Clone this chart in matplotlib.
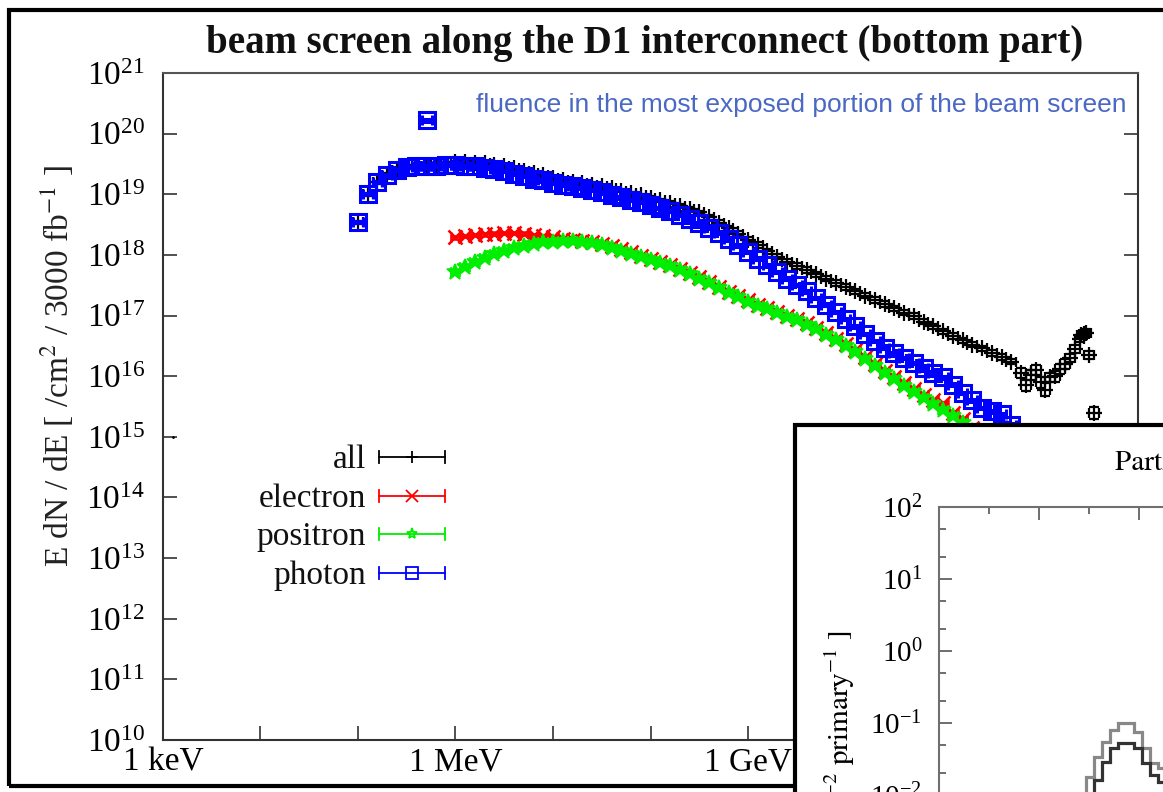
import numpy as np
import matplotlib
matplotlib.use("Agg")
import matplotlib.pyplot as plt
from matplotlib.patches import Rectangle
from matplotlib.lines import Line2D
from matplotlib.ticker import LogLocator, MultipleLocator, NullFormatter, LogFormatterSciNotation

plt.rcParams['font.family'] = ['Liberation Serif', 'DejaVu Serif']
plt.rcParams['mathtext.fontset'] = 'stix'

# ===== data (log10 of energy in eV, log10 of E dN/dE) =====
photon_logE = [5.0, 5.1, 5.2, 5.3, 5.4, 5.5, 5.6, 5.7, 5.8, 5.9,
               6.0, 6.1, 6.2, 6.3, 6.4, 6.5, 6.6, 6.7, 6.8, 6.9,
               7.0, 7.1, 7.2, 7.3, 7.4, 7.5, 7.6, 7.7, 7.8, 7.9,
               8.0, 8.1, 8.2, 8.3, 8.4, 8.5, 8.6, 8.7, 8.8, 8.9,
               9.0, 9.1, 9.2, 9.3, 9.4, 9.5, 9.6, 9.7, 9.8, 9.9,
               10.0, 10.1, 10.2, 10.3, 10.4, 10.5, 10.6, 10.7, 10.8, 10.9,
               11.0, 11.1, 11.2, 11.3, 11.4, 11.5, 11.6, 11.7, 11.8, 11.9,
               5.71]
photon_logY = [18.54, 19.0, 19.2, 19.32, 19.4, 19.45, 19.47, 19.46, 19.47, 19.48,
               19.48, 19.47, 19.46, 19.44, 19.41, 19.38, 19.34, 19.3, 19.26, 19.23,
               19.19, 19.16, 19.13, 19.1, 19.07, 19.03, 18.99, 18.95, 18.91, 18.87,
               18.82, 18.77, 18.72, 18.66, 18.6, 18.53, 18.45, 18.36, 18.26, 18.16,
               18.05, 17.94, 17.83, 17.72, 17.61, 17.5, 17.4, 17.29, 17.18, 17.06,
               16.94, 16.82, 16.7, 16.58, 16.47, 16.38, 16.3, 16.22, 16.14, 16.06,
               15.98, 15.86, 15.72, 15.6, 15.48, 15.42, 15.38, 15.2, 15.05, 14.9,
               20.22]

all_logE = [5.0, 5.1, 5.2, 5.3, 5.4, 5.5, 5.6, 5.7, 5.8, 5.9,
            6.0, 6.1, 6.2, 6.3, 6.4, 6.5, 6.6, 6.7, 6.8, 6.9,
            7.0, 7.1, 7.2, 7.3, 7.4, 7.5, 7.6, 7.7, 7.8, 7.9,
            8.0, 8.1, 8.2, 8.3, 8.4, 8.5, 8.6, 8.7, 8.8, 8.9,
            9.0, 9.1, 9.2, 9.3, 9.4, 9.5, 9.6, 9.7, 9.8, 9.9,
            10.0, 10.1, 10.2, 10.3, 10.4, 10.5, 10.6, 10.7, 10.8, 10.9,
            11.0, 11.1, 11.2, 11.3, 11.4, 11.5, 11.6, 11.7,
            11.8, 11.85, 11.9, 11.95, 12.0, 12.05, 12.1, 12.15, 12.2, 12.25,
            12.3, 12.35, 12.4, 12.42, 12.45, 12.47, 12.5, 12.55]
all_logY = [18.54, 19.0, 19.2, 19.32, 19.4, 19.45, 19.47, 19.47, 19.48, 19.5,
            19.53, 19.53, 19.52, 19.51, 19.49, 19.46, 19.43, 19.39, 19.35, 19.31,
            19.27, 19.24, 19.21, 19.18, 19.16, 19.13, 19.1, 19.06, 19.02, 18.98,
            18.94, 18.9, 18.86, 18.81, 18.76, 18.7, 18.62, 18.53, 18.44, 18.35,
            18.25, 18.16, 18.06, 17.97, 17.89, 17.82, 17.75, 17.68, 17.61, 17.54,
            17.47, 17.4, 17.33, 17.26, 17.19, 17.12, 17.05, 16.99, 16.9, 16.82,
            16.74, 16.66, 16.59, 16.52, 16.46, 16.38, 16.32, 16.24,
            16.05, 15.85, 16.02, 16.1, 15.9, 15.78, 15.98, 16.0, 16.12, 16.2,
            16.3, 16.45, 16.62, 16.68, 16.7, 16.72, 16.35, 15.39]
# error half-widths in decades
all_dlog = [0.025] * 36 + [0.045] * 32 + [0.08, 0.09, 0.08, 0.08, 0.09, 0.1, 0.08, 0.09, 0.08, 0.08,
                                          0.07, 0.07, 0.06, 0.05, 0.05, 0.05, 0.06, 0.1]

lepton_logE = [6.0, 6.1, 6.2, 6.3, 6.4, 6.5, 6.6, 6.7, 6.8, 6.9,
               7.0, 7.1, 7.2, 7.3, 7.4, 7.5, 7.6, 7.7, 7.8, 7.9,
               8.0, 8.1, 8.2, 8.3, 8.4, 8.5, 8.6, 8.7, 8.8, 8.9,
               9.0, 9.1, 9.2, 9.3, 9.4, 9.5, 9.6, 9.7, 9.8, 9.9,
               10.0, 10.1, 10.2, 10.3, 10.4, 10.5, 10.6, 10.7, 10.8, 10.9,
               11.0, 11.1, 11.2, 11.3, 11.4]
electron_logY = [18.29, 18.31, 18.33, 18.34, 18.35, 18.36, 18.36, 18.35, 18.33, 18.31,
                 18.29, 18.27, 18.25, 18.23, 18.21, 18.18, 18.14, 18.09, 18.04, 17.99,
                 17.94, 17.89, 17.83, 17.77, 17.7, 17.63, 17.55, 17.47, 17.39, 17.32,
                 17.25, 17.18, 17.12, 17.06, 17.0, 16.94, 16.87, 16.8, 16.71, 16.62,
                 16.53, 16.43, 16.31, 16.2, 16.09, 15.99, 15.88, 15.79, 15.69, 15.6,
                 15.56, 15.4, 15.3, 15.15, 15.0]
positron_logY = [17.72, 17.8, 17.88, 17.95, 18.01, 18.06, 18.11, 18.15, 18.18, 18.21,
                 18.22, 18.23, 18.23, 18.22, 18.2, 18.17, 18.12, 18.07, 18.02, 17.97,
                 17.92, 17.87, 17.81, 17.75, 17.68, 17.61, 17.53, 17.45, 17.37, 17.3,
                 17.23, 17.16, 17.1, 17.04, 16.98, 16.92, 16.85, 16.77, 16.68, 16.6,
                 16.5, 16.4, 16.28, 16.16, 16.05, 15.95, 15.84, 15.74, 15.64, 15.54,
                 15.44, 15.34, 15.22, 15.1, 14.95]

stray_logE = [3.1]
stray_logY = [15.0]

# second (partly hidden) figure: histogram
hist_edges = [1.23, 1.31, 1.39, 1.47, 1.55, 1.63, 1.71, 1.79, 1.87, 1.95, 2.03, 2.11, 2.19, 2.27]
hist_light_log = [-2.6, -2.4, -2.1, -1.75, -1.47, -1.26, -1.10, -1.0, -1.0, -1.12, -1.35, -1.55, -1.62]
hist_dark_log = [-3.0, -2.7, -2.4, -2.1, -1.79, -1.54, -1.35, -1.28, -1.28, -1.35, -1.56, -1.72, -1.82]

# ===== layout helpers (pixels -> figure fraction) =====
W, H = 1163, 792
def fx(px):
    return px / W
def fy(py):
    return 1 - py / H

fig = plt.figure(figsize=(W / 100, H / 100), dpi=100)
fig.patch.set_facecolor('white')

ax = fig.add_axes([fx(163), fy(740), fx(1138) - fx(163), fy(73) - fy(740)])
ax.set_xscale('log')
ax.set_yscale('log')
ax.set_xlim(1e3, 1e13)
ax.set_ylim(1e10, 1e21)


def draw(logE, logY, dlog, color, marker, ms, mew, mfc, z):
    E = 10 ** np.array(logE)
    Y = 10 ** np.array(logY)
    d = np.array(dlog)
    xerr = [E - E / 10 ** 0.05, E * 10 ** 0.05 - E]
    yerr = [Y - Y / 10 ** d, Y * 10 ** d - Y]
    ax.errorbar(E, Y, xerr=xerr, yerr=yerr, fmt=marker, color=color, ms=ms,
                mew=mew, mfc=mfc, elinewidth=1.2, capsize=3.5, capthick=1.2, zorder=z)


draw(all_logE, all_logY, all_dlog, 'black', '+', 11, 1.6, 'none', 2)
draw(lepton_logE, electron_logY, [0.02] * len(lepton_logE), '#ff0000', 'x', 10, 1.8, 'none', 3)
draw(lepton_logE, positron_logY, [0.02] * len(lepton_logE), '#00ee00', '*', 12, 1.2, '#00ee00', 4)
draw(photon_logE, photon_logY, [0.02] * len(photon_logE), '#0000ff', 's', 11, 2.2, 'none', 5)
ax.plot(10 ** np.array(stray_logE), 10 ** np.array(stray_logY), '.', color='black', ms=2)

# axes styling
for s in ax.spines.values():
    s.set_color('#333333')
    s.set_linewidth(1.5)
ax.spines['top'].set_color('#555555')
ax.set_xticks([10.0 ** k for k in range(3, 14)])
ax.set_xticklabels(['1 keV', '', '', '1 MeV', '', '', '1 GeV', '', '', '1 TeV', ''])
ax.set_yticks([10.0 ** k for k in range(10, 22)])
ax.yaxis.set_major_formatter(LogFormatterSciNotation())
ax.minorticks_off()
ax.tick_params(axis='both', which='major', direction='in', length=10, width=1.2,
               color='#333333', top=False, right=True)
ax.tick_params(axis='y', labelsize=24, pad=13)
ax.tick_params(axis='x', labelsize=24, pad=5)

# title, label, note
fig.text(fx(645), fy(53), 'beam screen along the D1 interconnect (bottom part)',
         ha='center', va='baseline', fontsize=28, fontweight='bold', color='#111111')
fig.text(fx(57), fy(366), 'E dN / dE [ /cm$^2$ / 3000 fb$^{-1}$ ]',
         rotation=90, ha='center', va='center', fontsize=24, color='#222222')
fig.text(fx(1127), fy(112), 'fluence in the most exposed portion of the beam screen',
         ha='right', va='baseline', fontsize=19, color='#4a68c4', family='Liberation Sans')

# legend drawn by hand, gnuplot style
leg_names = ['all', 'electron', 'positron', 'photon']
leg_colors = ['black', '#ff0000', '#00ee00', '#0000ff']
leg_markers = ['+', 'x', '*', 's']
leg_rows = [457, 496, 534, 573]
for name, c, m, py in zip(leg_names, leg_colors, leg_markers, leg_rows):
    fig.text(fx(366), fy(py + 11), name, ha='right', va='baseline', fontsize=24, color='#111111')
    fig.add_artist(Line2D([fx(379), fx(445)], [fy(py), fy(py)], color=c, lw=1.3))
    for cx in (379, 445):
        fig.add_artist(Line2D([fx(cx), fx(cx)], [fy(py - 6), fy(py + 6)], color=c, lw=1.3))
    fig.add_artist(Line2D([fx(412)], [fy(py)], marker=m, color=c, ms=8, mew=1.3,
                          mfc='none', lw=0))

# outer frame of the main picture
fig.add_artist(Rectangle((fx(9), fy(786)), fx(1250) - fx(9), fy(9.5) - fy(786),
                         transform=fig.transFigure, fill=False, ec='black', lw=3, zorder=1))

# overlapping second picture (bottom right)
fig.add_artist(Rectangle((fx(795), fy(950)), fx(1300) - fx(795), fy(424.5) - fy(950),
                         transform=fig.transFigure, fc='white', ec='black', lw=3, zorder=1.5))
ax2 = fig.add_axes([fx(939), fy(939), 600 / W, 432 / H])
ax2.set_zorder(2)
ax2.set_yscale('log')
ax2.set_ylim(1e-4, 1e2)
ax2.set_xlim(0, 6)
ax2.stairs(10 ** np.array(hist_light_log), hist_edges, color='#888888', lw=2.3)
ax2.stairs(10 ** np.array(hist_dark_log), hist_edges, color='#333333', lw=2.3)
for s in ax2.spines.values():
    s.set_color('#707070')
    s.set_linewidth(1.5)
ax2.xaxis.set_major_locator(MultipleLocator(1))
ax2.xaxis.set_minor_locator(MultipleLocator(0.5))
ax2.yaxis.set_major_locator(LogLocator(base=10, numticks=20))
ax2.yaxis.set_minor_locator(LogLocator(base=10, subs=(2.0, 5.0), numticks=20))
ax2.yaxis.set_minor_formatter(NullFormatter())
ax2.tick_params(which='both', direction='in', top=True, right=True, color='#555555',
                labelbottom=False)
ax2.tick_params(which='major', length=9, width=1.2)
ax2.tick_params(which='minor', length=5, width=1.2)
ax2.tick_params(axis='y', labelsize=21, pad=12)
fig.text(fx(1115), fy(470), 'Particle fluence', ha='left', va='baseline',
         fontsize=21, family='STIXGeneral', zorder=4)
fig.text(fx(840), fy(630), 'Fluence [ cm$^{-2}$ primary$^{-1}$ ]', rotation=90,
         ha='center', va='top', fontsize=21, family='STIXGeneral', zorder=4)

fig.savefig('out.png', dpi=100)
